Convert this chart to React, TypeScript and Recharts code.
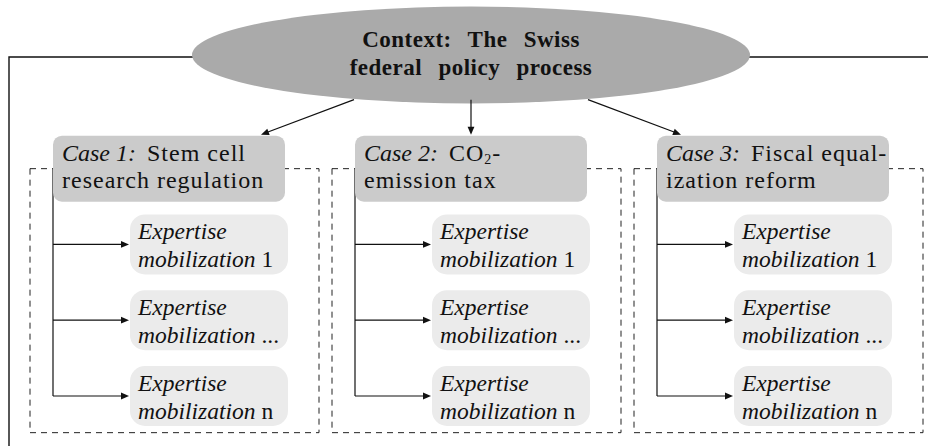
import { ScatterChart, Scatter, XAxis, YAxis } from 'recharts';

// diagram content
const CONTEXT_LINES = ['Context: The Swiss', 'federal policy process'];
const CASE_LABELS = ['Case 1:', 'Case 2:', 'Case 3:'];
const CASE_TITLES = [
  ['Stem cell', 'research regulation'],
  ['CO₂-', 'emission tax'],
  ['Fiscal equal-', 'ization reform'],
];
const STEP_WORDS = ['Expertise', 'mobilization'];
const STEP_LABELS = ['1', '...', 'n'];

// layout: x = case column, y = row (0 = case header, 1..n = mobilization steps)
const W = 928;
const H = 446;
const MARGIN = { top: 55, right: 271, bottom: 50, left: 53 };
const CONTEXT_ROW = -1.5;
const LAST_ROW = STEP_LABELS.length;

const FONT = '"Liberation Serif", "Times New Roman", serif';
const INK = '#111';
const ELLIPSE_FILL = '#aaaaaa';
const HEADER_FILL = '#cbcbcb';
const ITEM_FILL = '#ebebeb';

const ELLIPSE_RX = 279;
const ELLIPSE_RY = 48.5;
const FRAME_INSET = 9;
const BOX_W = 232;
const BOX_H = 66;
const DASH_DX = -23;
const DASH_W = 289;
const DASH_DEPTH = 264;
const ITEM_DX = 77;
const ITEM_W = 158;
const ITEM_H = 60;

const contextData = [{ col: (CASE_LABELS.length - 1) / 2, row: CONTEXT_ROW, lines: CONTEXT_LINES }];
const headerData = CASE_LABELS.map((label, i) => ({ col: i, row: 0, label, title: CASE_TITLES[i] }));
const itemData = CASE_LABELS.flatMap((_, i) =>
  STEP_LABELS.map((step, j) => ({ col: i, row: j + 1, step })),
);
const connectorData = CASE_LABELS.map((_, i) => [
  { col: i, row: 0 },
  { col: i, row: LAST_ROW },
]);

function Arrow({ x1, y1, x2, y2 }: { x1: number; y1: number; x2: number; y2: number }) {
  const len = Math.hypot(x2 - x1, y2 - y1);
  const ux = (x2 - x1) / len;
  const uy = (y2 - y1) / len;
  const L = 8;
  const hw = 3.4;
  const bx = x2 - ux * L;
  const by = y2 - uy * L;
  const pts = `${x2},${y2} ${bx - uy * hw},${by + ux * hw} ${bx + uy * hw},${by - ux * hw}`;
  return (
    <g>
      <line x1={x1} y1={y1} x2={bx + ux * 2} y2={by + uy * 2} stroke={INK} strokeWidth={1.2} />
      <polygon points={pts} fill={INK} />
    </g>
  );
}

function ContextShape(props: any) {
  const { cx, cy, payload } = props;
  const ex = cx + BOX_W / 2;
  return (
    <g>
      <path
        d={`M ${W + 4} ${cy + 2} H ${FRAME_INSET} V ${H + 4}`}
        fill="none"
        stroke={INK}
        strokeWidth={1.4}
      />
      <ellipse cx={ex} cy={cy} rx={ELLIPSE_RX} ry={ELLIPSE_RY} fill={ELLIPSE_FILL} />
      {payload.lines.map((line: string, k: number) => (
        <text
          key={k}
          x={ex}
          y={cy - 8 + k * 28}
          textAnchor="middle"
          fontFamily={FONT}
          fontWeight="bold"
          fontSize={23}
          letterSpacing={0.5}
          wordSpacing={10}
          fill={INK}
        >
          {line}
        </text>
      ))}
    </g>
  );
}

function TitleLine({ text }: { text: string }) {
  const parts = text.split('₂');
  if (parts.length === 1) return <>{text}</>;
  return (
    <>
      {parts[0]}
      <tspan fontSize={14} dy={3}>2</tspan>
      <tspan dy={-3}>{parts[1]}</tspan>
    </>
  );
}

function HeaderShape(props: any) {
  const { cx, cy, payload } = props;
  const shift = (contextData[0].col - payload.col);
  const endX = cx + BOX_W / 2 + shift * 92;
  const endY = cy - BOX_H / 2 - 1;
  return (
    <g>
      <rect
        x={cx + DASH_DX}
        y={cy}
        width={DASH_W}
        height={DASH_DEPTH}
        fill="none"
        stroke="#222"
        strokeWidth={1}
        strokeDasharray="6 5"
      />
      <Arrow x1={endX + shift * 93} y1={endY - 35} x2={endX} y2={endY} />
      <rect x={cx} y={cy - BOX_H / 2} width={BOX_W} height={BOX_H} rx={9} fill={HEADER_FILL} />
      <text x={cx + 9} y={cy - 8} fontFamily={FONT} fontSize={24} fill={INK}>
        <tspan fontStyle="italic">{payload.label}</tspan>
        <tspan dx={4} letterSpacing={1}>
          {' '}
          <TitleLine text={payload.title[0]} />
        </tspan>
      </text>
      <text x={cx + 9} y={cy + 19} fontFamily={FONT} fontSize={24} letterSpacing={1} fill={INK}>
        {payload.title[1]}
      </text>
    </g>
  );
}

function ItemShape(props: any) {
  const { cx, cy, payload } = props;
  return (
    <g>
      <Arrow x1={cx} y1={cy} x2={cx + ITEM_DX - 1} y2={cy} />
      <rect x={cx + ITEM_DX} y={cy - ITEM_H / 2} width={ITEM_W} height={ITEM_H} rx={15} fill={ITEM_FILL} />
      <text x={cx + 85} y={cy - 5} fontFamily={FONT} fontSize={23.5} fontStyle="italic" fill={INK}>
        {STEP_WORDS[0]}
      </text>
      <text x={cx + 85} y={cy + 23} fontFamily={FONT} fontSize={23.5} fill={INK}>
        <tspan fontStyle="italic">{STEP_WORDS[1]}</tspan>
        <tspan> {payload.step}</tspan>
      </text>
    </g>
  );
}

const noMark = () => <g />;

export default function App() {
  return (
    <div style={{ width: W, height: H, background: '#fff' }}>
      <style>{'body{margin:0}'}</style>
      <ScatterChart width={W} height={H} margin={MARGIN}>
        <XAxis type="number" dataKey="col" domain={[0, CASE_LABELS.length - 1]} hide />
        <YAxis type="number" dataKey="row" domain={[CONTEXT_ROW, LAST_ROW]} reversed hide />
        <Scatter data={contextData} shape={(p: any) => <ContextShape {...p} />} isAnimationActive={false} />
        {connectorData.map((d, i) => (
          <Scatter
            key={i}
            data={d}
            line={{ stroke: INK, strokeWidth: 1.2 }}
            shape={noMark}
            isAnimationActive={false}
          />
        ))}
        <Scatter data={headerData} shape={(p: any) => <HeaderShape {...p} />} isAnimationActive={false} />
        <Scatter data={itemData} shape={(p: any) => <ItemShape {...p} />} isAnimationActive={false} />
      </ScatterChart>
    </div>
  );
}
